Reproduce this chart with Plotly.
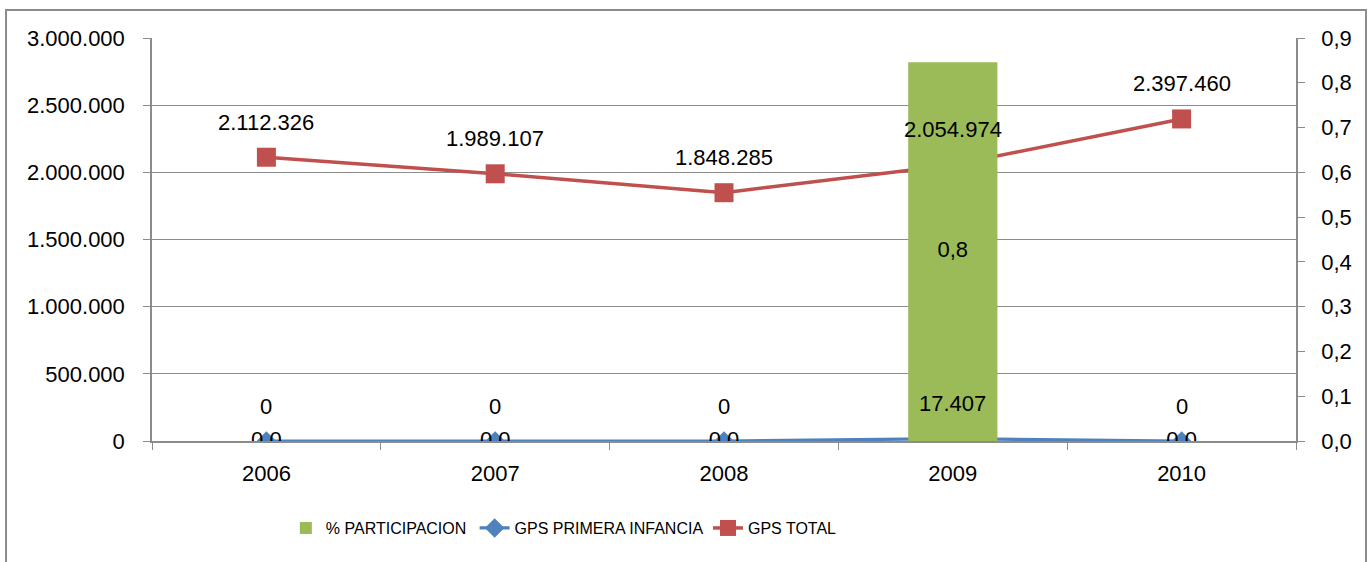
import plotly.graph_objects as go

# ── Data ──────────────────────────────────
years = ["2006", "2007", "2008", "2009", "2010"]
pct_participacion = [0.0, 0.0, 0.0, 0.846, 0.0]
gps_primera_infancia = [0, 0, 0, 17407, 0]
gps_total = [2112326, 1989107, 1848285, 2054974, 2397460]

# ── Colours ───────────────────────────────
C_GREEN = "#9BBB59"
C_BLUE = "#4F81BD"
C_RED = "#C0504D"
C_GRID = "#8C8C8C"
C_TEXT = "#000000"

FONT = "Liberation Sans, Arial, sans-serif"
LABEL_SIZE = 22


def fmt_thousands(v):
    return f"{v:,.0f}".replace(",", ".")


def fmt_pct(v):
    return f"{v:.1f}".replace(".", ",")


fig = go.Figure()

# bar on the right axis
fig.add_trace(go.Bar(
    x=years, y=pct_participacion,
    name="% PARTICIPACION",
    marker=dict(color=C_GREEN, line=dict(width=0)),
    width=0.39,
    yaxis="y2",
    legend="legend",
    hoverinfo="skip",
))

# bar value labels, centred on the bar
fig.add_trace(go.Scatter(
    x=years, y=[v / 2 for v in pct_participacion],
    mode="text",
    text=[fmt_pct(v) for v in pct_participacion],
    textfont=dict(family=FONT, size=LABEL_SIZE, color=C_TEXT),
    textposition="middle center",
    yaxis="y2",
    showlegend=False,
    hoverinfo="skip",
))

fig.add_trace(go.Scatter(
    x=years, y=gps_primera_infancia,
    name="GPS PRIMERA INFANCIA",
    mode="lines+markers",
    line=dict(color=C_BLUE, width=3.2),
    marker=dict(symbol="diamond", size=15, color=C_BLUE),
    legend="legend2",
))

fig.add_trace(go.Scatter(
    x=years, y=gps_total,
    name="GPS TOTAL",
    mode="lines+markers",
    line=dict(color=C_RED, width=3.5),
    marker=dict(symbol="square", size=19, color=C_RED),
    legend="legend3",
))

# data labels above the line points (x given as category index)
for series in (gps_primera_infancia, gps_total):
    for i, v in enumerate(series):
        fig.add_annotation(
            x=i, y=v, xref="x", yref="y",
            text=fmt_thousands(v),
            showarrow=False, yshift=35,
            font=dict(family=FONT, size=LABEL_SIZE, color=C_TEXT),
        )

# outer chart border
fig.add_shape(
    type="rect", xref="paper", yref="paper",
    x0=-0.1276, x1=1.0612, y0=-0.6, y1=1.0695,
    line=dict(color=C_GRID, width=2), layer="below",
)

legend_common = dict(
    orientation="h", yanchor="middle", y=-0.216, xanchor="left",
    bgcolor="rgba(0,0,0,0)", borderwidth=0,
    font=dict(family=FONT, size=16, color=C_TEXT),
)

fig.update_layout(
    width=1372, height=562,
    margin=dict(l=152, r=76, t=38, b=121),
    paper_bgcolor="white", plot_bgcolor="white",
    separators=",.",
    font=dict(family=FONT, size=LABEL_SIZE, color=C_TEXT),
    showlegend=True,
    legend=dict(x=0.117, **legend_common),
    legend2=dict(x=0.282, **legend_common),
    legend3=dict(x=0.486, **legend_common),
    xaxis=dict(
        type="category", range=[-0.5, 4.5],
        showline=True, linecolor=C_GRID, linewidth=1.5,
        ticks="outside", tickson="boundaries", ticklen=7, tickcolor=C_GRID,
        showgrid=False, zeroline=False,
        tickangle=0,
        ticklabelstandoff=12,
        tickfont=dict(family=FONT, size=LABEL_SIZE, color=C_TEXT),
    ),
    yaxis=dict(
        range=[0, 3000000], dtick=500000, tickformat=",.0f",
        showline=True, linecolor=C_GRID, linewidth=1.5,
        ticks="outside", ticklen=7, tickcolor=C_GRID,
        showgrid=True, gridcolor=C_GRID, gridwidth=1,
        zeroline=False,
        ticklabelstandoff=14,
        tickfont=dict(family=FONT, size=LABEL_SIZE, color=C_TEXT),
    ),
    yaxis2=dict(
        range=[0, 0.9], dtick=0.1, tickformat=".1f",
        overlaying="y", side="right",
        showline=True, linecolor=C_GRID, linewidth=1.5,
        ticks="outside", ticklen=7, tickcolor=C_GRID,
        showgrid=False, zeroline=False,
        ticklabelstandoff=12,
        tickfont=dict(family=FONT, size=LABEL_SIZE, color=C_TEXT),
    ),
)

fig.write_html(
    "out.html",
    config={"displayModeBar": False},
    post_script="document.body.style.margin='0px';",
)
